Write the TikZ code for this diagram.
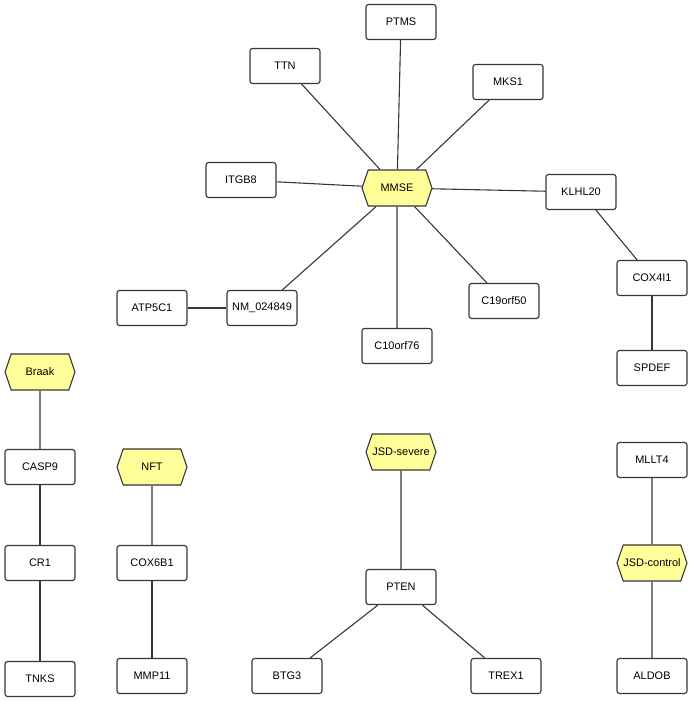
\documentclass[tikz,border=0pt]{standalone}
\usepackage{fontspec}
\setmainfont{Liberation Sans}
\usetikzlibrary{shapes.symbols}
\definecolor{hexfill}{RGB}{255,255,153}
\definecolor{edgecol}{RGB}{55,55,55}
\begin{document}
\begin{tikzpicture}[x=1bp,y=-1bp,
  gene/.style={draw=edgecol, line width=1.1bp, rounded corners=2.5bp, fill=white,
    minimum width=70bp, minimum height=35bp, inner sep=0pt, font=\fontsize{11}{13}\selectfont},
  trait/.style={draw=edgecol, line width=1.1bp, fill=hexfill, signal, signal to=east and west,
    signal pointer angle=142, minimum width=70bp, minimum height=36bp, inner sep=0pt,
    font=\fontsize{11}{13}\selectfont},
  link/.style={draw=edgecol, line width=1.1bp}]
\useasboundingbox (0,0) rectangle (692,702);
% MMSE cluster
\node[trait] (mmse) at (397,188) {MMSE};
\node[gene] (ptms) at (401,22) {PTMS};
\node[gene] (ttn) at (285,66) {TTN};
\node[gene] (mks1) at (508,82) {MKS1};
\node[gene] (itgb8) at (241,180) {ITGB8};
\node[gene] (klhl20) at (581,192) {KLHL20};
\node[gene] (cox4i1) at (652,278) {COX4I1};
\node[gene] (spdef) at (652,368) {SPDEF};
\node[gene] (atp5c1) at (152,308) {ATP5C1};
\node[gene] (nm) at (262,308) {NM\_024849};
\node[gene] (c10) at (397,346) {C10orf76};
\node[gene] (c19) at (504,301) {C19orf50};
% Braak
\node[trait] (braak) at (40,372) {Braak};
\node[gene] (casp9) at (40,467) {CASP9};
\node[gene] (cr1) at (40,563) {CR1};
\node[gene] (tnks) at (40,679) {TNKS};
% NFT
\node[trait] (nft) at (152,467) {NFT};
\node[gene] (cox6b1) at (152,563) {COX6B1};
\node[gene] (mmp11) at (152,676) {MMP11};
% JSD-severe
\node[trait] (jsds) at (401,452) {JSD-severe};
\node[gene] (pten) at (401,587) {PTEN};
\node[gene] (btg3) at (287,676) {BTG3};
\node[gene] (trex1) at (506,676) {TREX1};
% JSD-control
\node[gene] (mllt4) at (652,460) {MLLT4};
\node[trait] (jsdc) at (652,563) {JSD-control};
\node[gene] (aldob) at (652,676) {ALDOB};
% edges
\begin{scope}[on background layer/.try]
\end{scope}
\path[link] (mmse) -- (ptms);
\path[link] (mmse) -- (ttn);
\path[link] (mmse) -- (mks1);
\path[link] (mmse) -- (itgb8);
\path[link] (mmse) -- (klhl20);
\path[link] (mmse) -- (nm);
\path[link] (mmse) -- (c10);
\path[link] (mmse) -- (c19);
\path[link] (klhl20) -- (cox4i1);
\path[link] (cox4i1) -- (spdef);
\path[link] (atp5c1) -- (nm);
\path[link] (braak) -- (casp9);
\path[link] (casp9) -- (cr1);
\path[link] (cr1) -- (tnks);
\path[link] (nft) -- (cox6b1);
\path[link] (cox6b1) -- (mmp11);
\path[link] (jsds) -- (pten);
\path[link] (pten) -- (btg3);
\path[link] (pten) -- (trex1);
\path[link] (mllt4) -- (jsdc);
\path[link] (jsdc) -- (aldob);
\end{tikzpicture}
\end{document}
